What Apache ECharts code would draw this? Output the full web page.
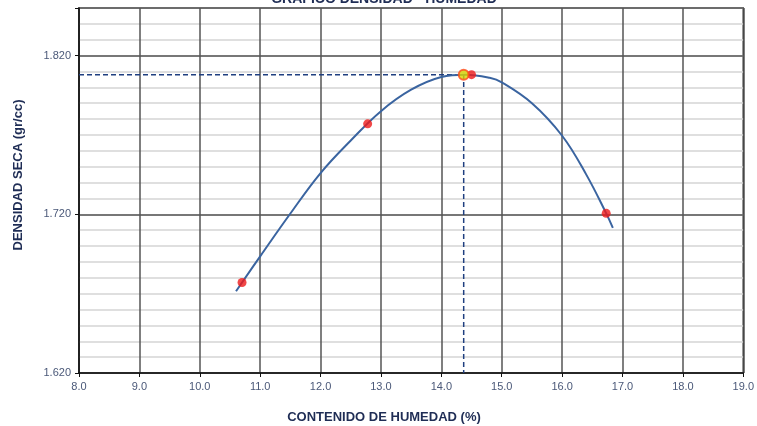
<!DOCTYPE html>
<html>
<head>
<meta charset="utf-8">
<script src="https://cdn.jsdelivr.net/npm/echarts@6/dist/echarts.min.js"></script>
<style>
  html, body { margin: 0; padding: 0; background: #fff; }
  #chart { width: 757px; height: 426px; }
</style>
</head>
<body>
<div id="chart"></div>
<script>
  // puntos del ensayo
  const humedad = [10.7, 12.78, 14.5, 16.73]
  const densidad = [1.677, 1.777, 1.808, 1.7206]
  // curva de ajuste
  const curvaX = [10.6, 11.0, 11.5, 12.0, 12.5, 13.0, 13.5, 14.0, 14.4, 14.8, 15.0, 15.5, 16.0, 16.4, 16.73, 16.84]
  const curvaY = [1.6715, 1.6935, 1.7205, 1.746, 1.7665, 1.785, 1.7985, 1.8065, 1.808, 1.806, 1.8032, 1.790, 1.7695, 1.745, 1.7206, 1.7115]
  // optimo
  const humedadOptima = 14.37
  const densidadMaxima = 1.808
  const yLabels = ['1.620', '1.720', '1.820']
  const xMin = 8
  const xMax = 19
  const yMin = 1.62
  const yMax = 1.85

  const textColor = '#1f2d55'
  const labelColor = '#4a5878'
  const fontFam = '"Liberation Sans", Arial, sans-serif'

  const chart = echarts.init(document.getElementById('chart'))
  const option = {
    animation: false,
    grid: {
      left: 79,
      right: 11,
      top: 8,
      bottom: 53,
      show: true,
      borderColor: '#222',
      borderWidth: 1.5
    },
    graphic: [{
      type: 'text',
      x: 384,
      y: -1,
      style: {
        text: 'GRAFICO DENSIDAD - HUMEDAD',
        font: 'bold 14px ' + fontFam,
        fill: textColor,
        align: 'center',
        verticalAlign: 'middle'
      }
    }, {
      type: 'text',
      x: 384,
      y: 417,
      style: {
        text: 'CONTENIDO DE HUMEDAD (%)',
        font: 'bold 13px ' + fontFam,
        fill: textColor,
        align: 'center',
        verticalAlign: 'middle'
      }
    }, {
      type: 'text',
      x: 18,
      y: 175,
      rotation: Math.PI / 2,
      style: {
        text: 'DENSIDAD SECA (gr/cc)',
        font: 'bold 13px ' + fontFam,
        fill: textColor,
        align: 'center',
        verticalAlign: 'middle'
      }
    }],
    xAxis: {
      type: 'value',
      min: xMin,
      max: xMax,
      interval: 1,
      axisLine: { onZero: false, lineStyle: { color: '#111', width: 1.5 } },
      axisTick: { show: true, length: 4, lineStyle: { color: '#111' } },
      axisLabel: {
        color: labelColor,
        fontSize: 11,
        fontFamily: fontFam,
        margin: 8,
        formatter: v => v.toFixed(1)
      },
      splitLine: { show: true, lineStyle: { color: '#555', width: 1.5 } }
    },
    yAxis: [{
      type: 'value',
      min: yMin,
      max: yMax,
      interval: 0.01,
      axisLine: { show: true, onZero: false, lineStyle: { color: '#111', width: 1.5 } },
      axisTick: { show: false },
      axisLabel: {
        color: labelColor,
        fontSize: 11,
        fontFamily: fontFam,
        margin: 8,
        formatter: function(v) {
          const s = v.toFixed(3)
          return yLabels.indexOf(s) >= 0 ? s : ''
        }
      },
      splitLine: { show: true, lineStyle: { color: '#d4d4d4', width: 1.5 } }
    }, {
      // lineas principales cada 0.100
      type: 'value',
      position: 'left',
      min: 0,
      max: 23,
      interval: 10,
      axisLine: { show: false },
      axisTick: { show: true, length: 4, lineStyle: { color: '#111' } },
      axisLabel: { show: false },
      splitLine: { show: true, lineStyle: { color: '#555', width: 1.5 } }
    }],
    series: [{
      name: 'optimo',
      type: 'line',
      symbol: 'none',
      lineStyle: { color: '#1f3f80', width: 1.5, type: [5, 3] },
      data: [[xMin, densidadMaxima], [humedadOptima, densidadMaxima], [humedadOptima, yMin]],
      z: 3
    }, {
      name: 'curva',
      type: 'line',
      smooth: 0.4,
      symbol: 'none',
      lineStyle: { color: '#3a64a0', width: 2 },
      data: curvaX.map((x, i) => [x, curvaY[i]]),
      z: 4
    }, {
      name: 'puntos',
      type: 'scatter',
      symbolSize: 9,
      itemStyle: { color: '#ee1a1a' },
      data: humedad.map((x, i) => [x, densidad[i]]),
      z: 5
    }, {
      name: 'maximo',
      type: 'scatter',
      symbolSize: 10,
      itemStyle: { color: '#d8d400', borderColor: '#ff4a1a', borderWidth: 2 },
      data: [[humedadOptima, densidadMaxima]],
      z: 6
    }]
  }
  chart.setOption(option)
</script>
</body>
</html>
